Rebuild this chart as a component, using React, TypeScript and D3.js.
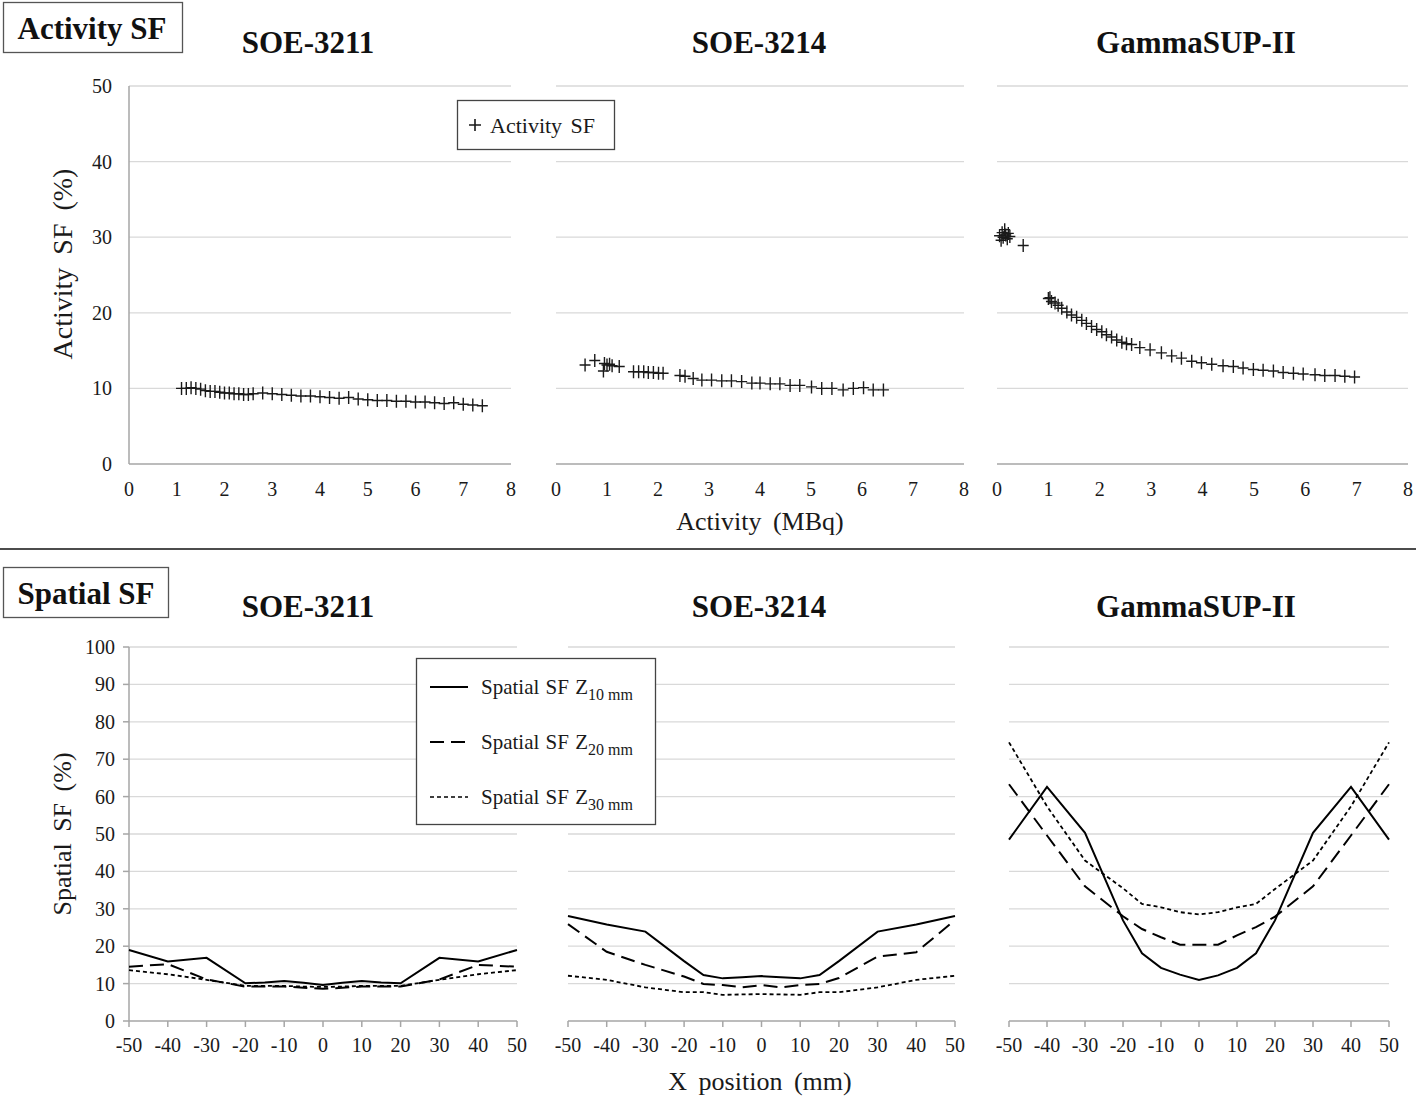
import React from "react";
import * as d3 from "d3";

// ---------- DATA ----------
const panelTitles = ["SOE-3211", "SOE-3214", "GammaSUP-II"];

const act3211X = [1.1, 1.2, 1.3, 1.4, 1.5, 1.6, 1.7, 1.8, 1.9, 2.0, 2.1, 2.2, 2.3, 2.4, 2.5,
  2.6, 2.8, 3.0, 3.2, 3.4, 3.6, 3.8, 4.0, 4.2, 4.4, 4.6, 4.8, 5.0, 5.2, 5.4, 5.6, 5.8, 6.0, 6.2, 6.4, 6.6, 6.8, 7.0, 7.2, 7.4];
const act3211Y = [10.0, 10.0, 10.1, 10.0, 9.9, 9.7, 9.6, 9.6, 9.5, 9.4, 9.4, 9.3, 9.3, 9.2, 9.2,
  9.3, 9.4, 9.3, 9.2, 9.1, 9.0, 9.0, 8.9, 8.8, 8.7, 8.8, 8.6, 8.5, 8.4, 8.4, 8.3, 8.3, 8.2, 8.2, 8.1, 8.0, 8.1, 7.9, 7.8, 7.7];

const act3214X = [0.57, 0.76, 0.93, 0.95, 1.0, 1.05, 1.1, 1.24, 1.52, 1.62, 1.72, 1.81, 1.91, 2.01, 2.1, 2.43, 2.53,
  2.69, 2.86, 3.05, 3.25, 3.44, 3.64, 3.84, 4.0, 4.2, 4.39, 4.59, 4.78, 5.01, 5.21, 5.41, 5.63, 5.83, 6.03, 6.22, 6.42];
const act3214Y = [13.1, 13.7, 12.3, 13.3, 13.1, 13.2, 13.0, 12.9, 12.2, 12.2, 12.2, 12.1, 12.1, 12.0, 12.0, 11.7, 11.6,
  11.3, 11.1, 11.1, 11.0, 11.0, 10.9, 10.7, 10.7, 10.6, 10.6, 10.4, 10.4, 10.2, 10.0, 10.0, 9.8, 10.0, 10.1, 9.8, 9.8];

const actGammaX = [0.05, 0.08, 0.1, 0.12, 0.15, 0.17, 0.2, 0.22, 0.25, 0.51,
  1.0, 1.03, 1.06, 1.13, 1.19, 1.26, 1.36, 1.45, 1.55, 1.65, 1.74, 1.84, 1.94, 2.04, 2.13, 2.23, 2.33, 2.43, 2.52, 2.62,
  2.78, 2.98, 3.2, 3.4, 3.59, 3.79, 3.98, 4.18, 4.4, 4.6, 4.79, 4.99, 5.18, 5.38, 5.57, 5.77, 5.96, 6.19, 6.38, 6.58, 6.77, 6.96];
const actGammaY = [30.2, 29.6, 30.6, 30.0, 31.0, 30.3, 29.8, 30.5, 30.1, 28.9,
  21.9, 22.0, 21.5, 21.3, 21.0, 20.6, 20.1, 19.7, 19.4, 19.0, 18.6, 18.2, 17.8, 17.5, 17.1, 16.8, 16.4, 16.1, 15.9, 15.8,
  15.4, 15.1, 14.7, 14.3, 14.0, 13.6, 13.4, 13.2, 13.0, 12.9, 12.7, 12.5, 12.4, 12.3, 12.1, 12.0, 11.9, 11.8, 11.7, 11.7, 11.6, 11.5];

const activityX = [act3211X, act3214X, actGammaX];
const activityY = [act3211Y, act3214Y, actGammaY];
const activityTicksX = [0, 1, 2, 3, 4, 5, 6, 7, 8];
const activityTicksY = [0, 10, 20, 30, 40, 50];

const posX = [-50, -40, -30, -20, -15, -10, -5, 0, 5, 10, 15, 20, 30, 40, 50];
const sp3211Z10 = [19.0, 15.9, 16.9, 10.1, 10.3, 10.7, 10.2, 9.6, 10.2, 10.7, 10.3, 10.1, 16.9, 15.9, 19.0];
const sp3211Z20 = [14.5, 15.2, 11.1, 9.2, 9.2, 9.2, 8.9, 8.6, 8.9, 9.2, 9.2, 9.2, 11.1, 15.0, 14.5];
const sp3211Z30 = [13.6, 12.5, 11.0, 9.4, 9.4, 9.4, 9.2, 9.1, 9.2, 9.4, 9.4, 9.4, 11.0, 12.5, 13.6];
const sp3214Z10 = [28.1, 25.8, 23.9, 16.0, 12.3, 11.4, 11.7, 12.0, 11.7, 11.4, 12.3, 16.0, 23.9, 25.8, 28.1];
const sp3214Z20 = [25.9, 18.5, 15.0, 11.9, 9.9, 9.6, 9.0, 9.6, 9.0, 9.6, 9.9, 11.5, 17.2, 18.4, 27.0];
const sp3214Z30 = [12.1, 11.0, 9.0, 7.7, 7.7, 7.0, 7.1, 7.2, 7.1, 7.0, 7.7, 7.7, 9.0, 11.0, 12.1];
const spGammaZ10 = [48.5, 62.6, 50.3, 26.9, 18.1, 14.2, 12.4, 11.0, 12.2, 14.2, 18.1, 26.9, 50.3, 62.6, 48.5];
const spGammaZ20 = [63.3, 49.6, 36.0, 28.0, 24.6, 22.4, 20.4, 20.4, 20.4, 22.9, 25.1, 27.9, 36.0, 49.6, 63.3];
const spGammaZ30 = [74.5, 57.4, 42.9, 35.5, 31.3, 30.4, 29.1, 28.5, 29.1, 30.4, 31.3, 35.3, 42.9, 57.4, 74.5];

const spatialSeries = [
  [sp3211Z10, sp3211Z20, sp3211Z30],
  [sp3214Z10, sp3214Z20, sp3214Z30],
  [spGammaZ10, spGammaZ20, spGammaZ30],
];
const spatialTicksX = [-50, -40, -30, -20, -10, 0, 10, 20, 30, 40, 50];
const spatialTicksY = [0, 10, 20, 30, 40, 50, 60, 70, 80, 90, 100];
const zLabels = ["10 mm", "20 mm", "30 mm"];

// ---------- LAYOUT ----------
const W = 1418;
const H = 1097;
const FONT = "'Liberation Serif', 'Times New Roman', serif";
const GRID = "#d9d9d9";
const AXIS = "#a6a6a6";
const INK = "#1a1a1a";
const TICK_FS = 20;

const topRanges: [number, number][] = [[129, 511], [556, 964], [997, 1408]];
const topY: [number, number] = [464, 86];
const botRanges: [number, number][] = [[129, 517], [568, 955], [1009, 1389]];
const botY: [number, number] = [1021, 647];
const titleX = [308, 759, 1196];
const dashes = [null, "14,7", "4,3"];

function TopPanel({ i }: { i: number }) {
  const x = d3.scaleLinear().domain([0, 8]).range(topRanges[i]);
  const y = d3.scaleLinear().domain([0, 50]).range(topY);
  const xs = activityX[i];
  const ys = activityY[i];
  return (
    <g>
      {activityTicksY.filter((t) => t > 0).map((t) => (
        <line key={t} x1={x(0)} x2={x(8)} y1={y(t)} y2={y(t)} stroke={GRID} strokeWidth={1.3} />
      ))}
      <line x1={x(0)} x2={x(8)} y1={y(0)} y2={y(0)} stroke={AXIS} strokeWidth={1.5} />
      {i === 0 && <line x1={x(0)} x2={x(0)} y1={y(0)} y2={y(50)} stroke={AXIS} strokeWidth={1.5} />}
      {i === 0 &&
        activityTicksY.map((t) => (
          <text key={t} x={112} y={y(t)} dy="0.35em" textAnchor="end" fontSize={TICK_FS} fontFamily={FONT} fill={INK}>
            {t}
          </text>
        ))}
      {activityTicksX.map((t) => (
        <text key={t} x={x(t)} y={489} dy="0.35em" textAnchor="middle" fontSize={TICK_FS} fontFamily={FONT} fill={INK}>
          {t}
        </text>
      ))}
      {xs.map((v, k) => {
        const cx = x(v);
        const cy = y(ys[k]);
        return (
          <path key={k} d={`M${cx - 5.5},${cy}H${cx + 5.5}M${cx},${cy - 6.5}V${cy + 6.5}`} stroke={INK} strokeWidth={1.4} />
        );
      })}
      <text x={titleX[i]} y={42} dy="0.35em" textAnchor="middle" fontSize={31} fontWeight="bold" fontFamily={FONT} fill="#111">
        {panelTitles[i]}
      </text>
    </g>
  );
}

function BottomPanel({ i }: { i: number }) {
  const x = d3.scaleLinear().domain([-50, 50]).range(botRanges[i]);
  const y = d3.scaleLinear().domain([0, 100]).range(botY);
  const line = d3
    .line<number>()
    .x((_, k) => x(posX[k]))
    .y((d) => y(d));
  return (
    <g>
      {spatialTicksY.filter((t) => t > 0).map((t) => (
        <line key={t} x1={x(-50)} x2={x(50)} y1={y(t)} y2={y(t)} stroke={GRID} strokeWidth={1.3} />
      ))}
      <line x1={x(-50)} x2={x(50)} y1={y(0)} y2={y(0)} stroke={AXIS} strokeWidth={1.5} />
      {spatialTicksX.map((t) => (
        <g key={t}>
          <line x1={x(t)} x2={x(t)} y1={y(0)} y2={y(0) + 6} stroke={AXIS} strokeWidth={1.5} />
          <text x={x(t)} y={1045} dy="0.35em" textAnchor="middle" fontSize={TICK_FS} fontFamily={FONT} fill={INK}>
            {t}
          </text>
        </g>
      ))}
      {i === 0 && (
        <g>
          <line x1={x(-50)} x2={x(-50)} y1={y(0)} y2={y(100)} stroke={AXIS} strokeWidth={1.5} />
          {spatialTicksY.map((t) => (
            <g key={t}>
              <line x1={x(-50) - 6} x2={x(-50)} y1={y(t)} y2={y(t)} stroke={AXIS} strokeWidth={1.5} />
              <text x={115} y={y(t)} dy="0.35em" textAnchor="end" fontSize={TICK_FS} fontFamily={FONT} fill={INK}>
                {t}
              </text>
            </g>
          ))}
        </g>
      )}
      {spatialSeries[i].map((s, k) => (
        <path
          key={k}
          d={line(s) || ""}
          fill="none"
          stroke="#000"
          strokeWidth={k === 2 ? 1.8 : 2}
          strokeDasharray={dashes[k] || undefined}
        />
      ))}
      <text x={titleX[i]} y={606} dy="0.35em" textAnchor="middle" fontSize={31} fontWeight="bold" fontFamily={FONT} fill="#111">
        {panelTitles[i]}
      </text>
    </g>
  );
}

export default function App() {
  return (
    <svg width={W} height={H} style={{ position: "absolute", left: 0, top: 0, background: "#fff" }}>
      <rect x={0} y={0} width={W} height={H} fill="#fff" />
      {/* Activity section header */}
      <rect x={3.5} y={2.5} width={179} height={50} fill="#fff" stroke="#555" strokeWidth={1.3} />
      <text x={92} y={28} dy="0.35em" textAnchor="middle" fontSize={31} fontWeight="bold" fontFamily={FONT} fill="#111">
        Activity SF
      </text>
      {[0, 1, 2].map((i) => (
        <TopPanel key={i} i={i} />
      ))}
      <text
        transform="translate(62,264) rotate(-90)"
        textAnchor="middle"
        dy="0.35em"
        fontSize={28}
        fontFamily={FONT}
        fill={INK}
        wordSpacing={6}
      >
        Activity SF (%)
      </text>
      <text x={760} y={521} dy="0.35em" textAnchor="middle" fontSize={26} fontFamily={FONT} fill={INK} wordSpacing={5}>
        Activity (MBq)
      </text>
      {/* Activity legend */}
      <rect x={457.5} y={100.5} width={157} height={49} fill="#fff" stroke="#444" strokeWidth={1.3} />
      <path d="M469,125H481M475,119V131" stroke={INK} strokeWidth={1.6} />
      <text x={490} y={125} dy="0.35em" fontSize={22} fontFamily={FONT} fill={INK} wordSpacing={3}>
        Activity SF
      </text>

      {/* separator */}
      <line x1={0} x2={1416} y1={549} y2={549} stroke="#111" strokeWidth={1.5} />

      {/* Spatial section header */}
      <rect x={3.5} y={567.5} width={165} height={50} fill="#fff" stroke="#555" strokeWidth={1.3} />
      <text x={86} y={593} dy="0.35em" textAnchor="middle" fontSize={31} fontWeight="bold" fontFamily={FONT} fill="#111">
        Spatial SF
      </text>
      {[0, 1, 2].map((i) => (
        <BottomPanel key={i} i={i} />
      ))}
      <text
        transform="translate(62,834) rotate(-90)"
        textAnchor="middle"
        dy="0.35em"
        fontSize={26}
        fontFamily={FONT}
        fill={INK}
        wordSpacing={5}
      >
        Spatial SF (%)
      </text>
      <text x={760} y={1081} dy="0.35em" textAnchor="middle" fontSize={26} fontFamily={FONT} fill={INK} wordSpacing={5}>
        X position (mm)
      </text>
      {/* Spatial legend */}
      <rect x={416.5} y={658.5} width={239} height={166} fill="#fff" stroke="#444" strokeWidth={1.3} />
      {zLabels.map((lab, k) => {
        const yy = 687 + k * 55;
        return (
          <g key={k}>
            <line
              x1={430}
              x2={468}
              y1={yy}
              y2={yy}
              stroke="#000"
              strokeWidth={k === 2 ? 1.6 : 2}
              strokeDasharray={dashes[k] || undefined}
            />
            <text x={481} y={yy} dy="0.35em" fontSize={21} fontFamily={FONT} fill={INK} wordSpacing={1}>
              Spatial SF Z
              <tspan fontSize={16} dy="6" wordSpacing={0}>{lab}</tspan>
            </text>
          </g>
        );
      })}
    </svg>
  );
}
